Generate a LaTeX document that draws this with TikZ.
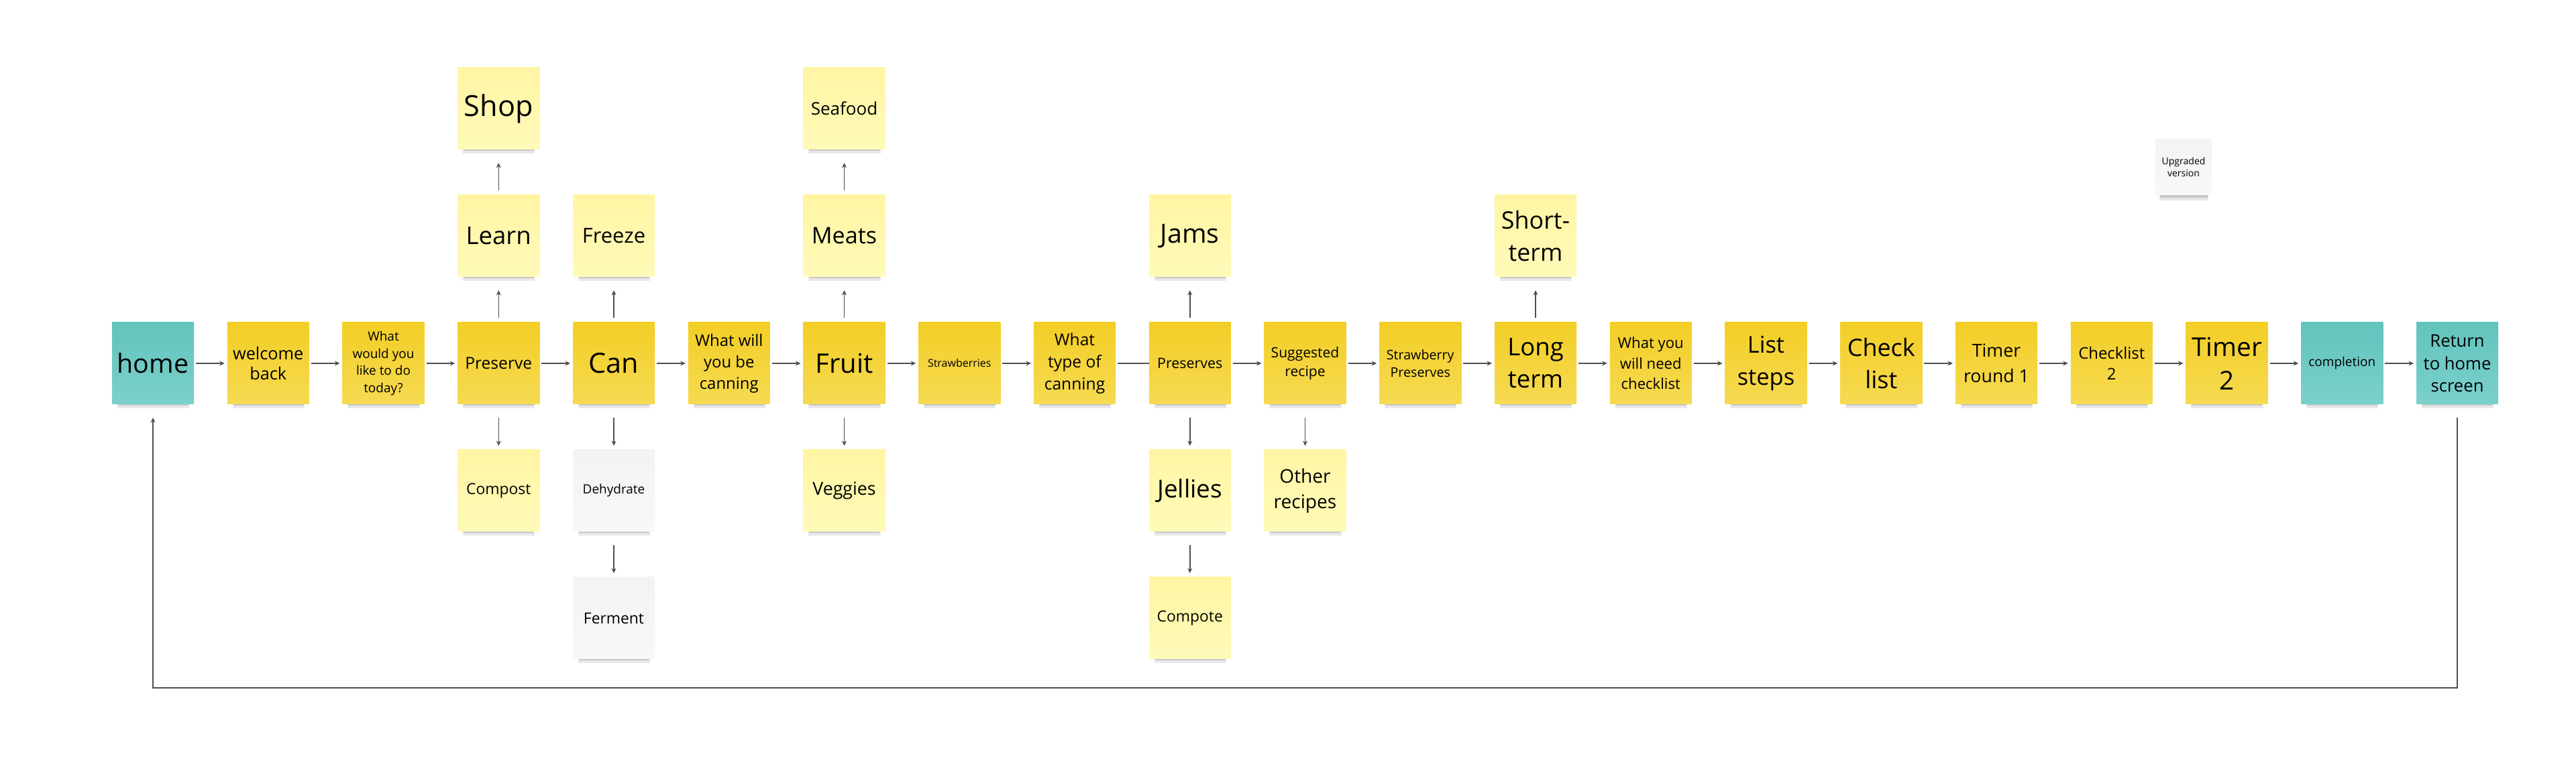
\documentclass[tikz,border=0pt]{standalone}
\usepackage{fontspec}
\setmainfont{Open Sans}
\usetikzlibrary{positioning,arrows.meta,shadows}
\definecolor{goldtop}{HTML}{F3CE26}
\definecolor{goldbot}{HTML}{F6DA52}
\definecolor{paletop}{HTML}{FFF5A3}
\definecolor{palebot}{HTML}{FFFAB9}
\definecolor{minttop}{HTML}{62C3BD}
\definecolor{mintbot}{HTML}{7BD0CA}
\definecolor{misttop}{HTML}{F2F3F5}
\definecolor{mistbot}{HTML}{F7F8FA}
\definecolor{linkgray}{HTML}{4E4E4E}
\newcommand{\fs}[2]{\fontsize{#1}{#2}\selectfont}

\begin{document}
\begin{tikzpicture}[
    node distance=0.68cm and 0.4975cm,
    note/.style={rectangle, minimum width=1.22cm, minimum height=1.22cm, inner sep=0pt, outer sep=0pt, align=center,
        drop shadow={opacity=0.18, shadow scale=0.88, shadow xshift=0.05mm, shadow yshift=-1.5mm},
        drop shadow={opacity=0.3, shadow scale=0.86, shadow xshift=0.05mm, shadow yshift=-1.25mm}},
    gold/.style={note, top color=goldtop, bottom color=goldbot},
    pale/.style={note, top color=paletop, bottom color=palebot},
    mint/.style={note, top color=minttop, bottom color=mintbot},
    mist/.style={note, top color=misttop, bottom color=mistbot},
    arrowR/.style={draw=linkgray, line width=0.15mm, -{Stealth[length=0.75mm, width=0.7mm]}, shorten <=0.3mm, shorten >=0.4mm},
    arrowU/.style={arrowR, shorten <=0.7mm, shorten >=2mm},
    arrowD/.style={arrowR, shorten <=2mm, shorten >=0.6mm}
]
\path[use as bounding box, fill=white] (0,0) rectangle (38.4,11.56);

\node[mint, font=\fs{11.2}{13}] (home) at (2.28,6.14) {home};
\node[gold, font=\fs{7.2}{8.8}, right=of home] (welcome) {welcome\\back};
\node[gold, font=\fs{5.4}{7.25}, right=of welcome] (today) {What\\would you\\like to do\\today?};
\node[gold, font=\fs{7}{9}, right=of today] (preserve) {Preserve};
\node[gold, font=\fs{11.8}{14}, right=of preserve] (can) {Can};
\node[gold, font=\fs{6.8}{9.1}, right=of can] (willcan) {What will\\you be\\canning};
\node[gold, font=\fs{11.4}{14}, right=of willcan] (fruit) {Fruit};
\node[gold, font=\fs{4.55}{6}, right=of fruit] (straw) {Strawberries};
\node[gold, font=\fs{7}{9.4}, right=of straw] (type) {What\\type of\\canning};
\node[gold, font=\fs{6.1}{8}, right=of type] (preserves) {Preserves};
\node[gold, font=\fs{6}{7.9}, right=of preserves] (suggest) {Suggested\\recipe};
\node[gold, font=\fs{5.6}{7.4}, right=of suggest] (strawpres) {Strawberry\\Preserves};
\node[gold, font=\fs{10.4}{13.7}, right=of strawpres] (long) {Long\\term};
\node[gold, font=\fs{6.3}{8.7}, right=of long] (need) {What you\\will need\\checklist};
\node[gold, font=\fs{9.8}{13.9}, right=of need] (steps) {List\\steps};
\node[gold, font=\fs{10.2}{13.6}, right=of steps] (check) {Check\\list};
\node[gold, font=\fs{7.6}{10.7}, right=of check] (timerA) {Timer\\round 1};
\node[gold, font=\fs{6.8}{8.8}, right=of timerA] (checkB) {Checklist\\2};
\node[gold, font=\fs{11}{14.2}, right=of checkB] (timerB) {Timer\\2};
\node[mint, font=\fs{5.4}{7}, right=of timerB] (done) {completion};
\node[mint, font=\fs{7.3}{9.4}, right=of done] (back) {Return\\to home\\screen};

\node[pale, font=\fs{10.4}{13}, above=of preserve] (learn) {Learn};
\node[pale, font=\fs{12.3}{14}, above=of learn] (shop) {Shop};
\node[pale, font=\fs{6.5}{8}, below=of preserve] (compost) {Compost};
\node[pale, font=\fs{8.8}{10}, above=of can] (freeze) {Freeze};
\node[mist, font=\fs{5.4}{7}, below=of can] (dehyd) {Dehydrate};
\node[mist, font=\fs{6.5}{8}, below=of dehyd] (ferment) {Ferment};
\node[pale, font=\fs{9.7}{12}, above=of fruit] (meats) {Meats};
\node[pale, font=\fs{7.4}{9}, above=of meats] (seafood) {Seafood};
\node[pale, font=\fs{7.6}{9}, below=of fruit] (veggies) {Veggies};
\node[pale, font=\fs{11.2}{13}, above=of preserves] (jams) {Jams};
\node[pale, font=\fs{10.5}{13}, below=of preserves] (jellies) {Jellies};
\node[pale, font=\fs{6.5}{8}, below=of jellies] (compote) {Compote};
\node[pale, font=\fs{8}{10.8}, below=of suggest] (other) {Other\\recipes};
\node[pale, font=\fs{10.2}{13.6}, above=of long] (short) {Short-\\term};
\node[mist, font=\fs{4}{5.1}, minimum width=0.83cm, minimum height=0.83cm] (upgrade) at (32.55,9.07) {Upgraded\\version};

\foreach \a/\b in {home/welcome, welcome/today, today/preserve, preserve/can, can/willcan, willcan/fruit, fruit/straw, straw/type,
        preserves/suggest, suggest/strawpres, strawpres/long, long/need, need/steps, steps/check, check/timerA, timerA/checkB,
        checkB/timerB, timerB/done, done/back}
    \draw[arrowR] (\a.east) -- (\b.west);
\draw[linkgray, line width=0.15mm, shorten <=0.3mm] (type.east) -- (preserves.west);
\foreach \a/\b in {preserve/learn, learn/shop, can/freeze, fruit/meats, meats/seafood, preserves/jams, long/short}
    \draw[arrowU] (\a.north) -- (\b.south);
\foreach \a/\b in {preserve/compost, can/dehyd, dehyd/ferment, fruit/veggies, preserves/jellies, jellies/compote, suggest/other}
    \draw[arrowD] (\a.south) -- (\b.north);
\coordinate (base) at (0,1.30);
\draw[arrowR, shorten <=2mm, shorten >=2mm] (back.south) -- (back.south |- base) -| (home.south);
\end{tikzpicture}
\end{document}
